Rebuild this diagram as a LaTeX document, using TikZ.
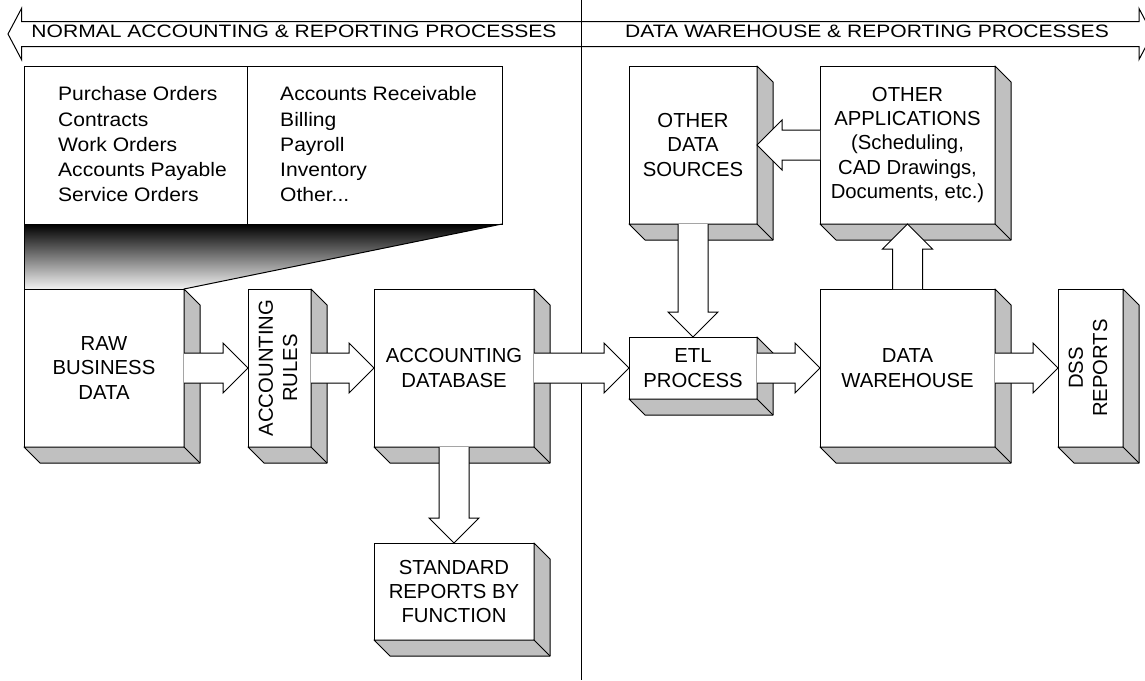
\documentclass[tikz,border=0pt]{standalone}
\usepackage{fontspec}
\setmainfont{Liberation Sans}
\newfontfamily\bannerfont{Liberation Sans}[FakeStretch=1.17]
\newfontfamily\listfont{Liberation Sans}[FakeStretch=1.08]
\usetikzlibrary{calc}
\definecolor{SideGray}{RGB}{192,192,192}
\tikzset{
  box3d/.style={draw=black,fill=white,line width=1pt,inner sep=0pt,outer sep=0pt,
    align=center,font=\fontsize{20.3}{24.3}\selectfont},
  boxtext/.style={inner sep=0pt,align=center,font=\fontsize{20.3}{24.3}\selectfont},
  sideface/.style={draw=black,fill=SideGray,line width=1pt,line join=round},
  blockarrow/.style={draw=black,fill=white,line width=1pt,line join=miter},
  listtext/.style={inner sep=0pt,align=left,anchor=west,
    font=\listfont\fontsize{19.5}{25.25}\selectfont},
  bannertext/.style={inner sep=0pt,font=\bannerfont\fontsize{18}{20}\selectfont},
}

% grey right and bottom faces behind a box
\newcommand\sidefaces[1]{%
  \filldraw[sideface] (#1.north east) -- ++(16,16) -- ($(#1.south east)+(16,16)$)
    -- ($(#1.south west)+(16,16)$) -- (#1.south west) -- (#1.south east) -- cycle;
  \draw[line width=1pt] (#1.south east) -- ++(16,16);
}
% wide hollow arrow, open at its tail
\newcommand\fatarrow[2]{%
  \coordinate (headbase) at ($(#2)!25pt!(#1)$);
  \filldraw[blockarrow] ($(#1)!15pt!90:(#2)$) -- ($(headbase)!15pt!90:(#2)$)
    -- ($(headbase)!25pt!90:(#2)$) -- (#2) -- ($(headbase)!25pt!-90:(#2)$)
    -- ($(headbase)!15pt!-90:(#2)$) -- ($(#1)!15pt!-90:(#2)$);
}

\begin{document}
\begin{tikzpicture}[x=1pt,y=-1pt]
  \useasboundingbox (0,0) rectangle (1145,680);

  % banner over both halves
  \filldraw[blockarrow] (8,34) -- (21.5,8.5) -- (21.5,21.5) -- (1139,21.5) -- (1139,8.5)
    -- (1152.5,34) -- (1139,59.5) -- (1139,46.5) -- (21.5,46.5) -- (21.5,59.5) -- cycle;
  \node[bannertext] (acctbanner) at (294,31) {NORMAL ACCOUNTING \& REPORTING PROCESSES};
  \node[bannertext] (dwbanner) at (867,31) {DATA WAREHOUSE \& REPORTING PROCESSES};
  \draw[line width=1pt] (581,0) -- (581,680);

  % transaction list and its funnel
  \shade[top color=black,bottom color=white!95!black]
    (24,224) -- (502,224) -- (184,289) -- (24,289) -- cycle;
  \draw[line width=1pt] (24,66) rectangle (502,224);
  \draw[line width=1pt] (247,66) -- (247,224);
  \draw[line width=1pt] (24,224) -- (24,289);
  \draw[line width=1pt] (502,224) -- (184,289);
  \node[listtext] (leftlist) at (58,144.5)
    {Purchase Orders\\Contracts\\Work Orders\\Accounts Payable\\Service Orders};
  \node[listtext] (rightlist) at (280,144.5)
    {Accounts Receivable\\Billing\\Payroll\\Inventory\\Other...};

  % boxes
  \node[box3d,minimum width=160pt,minimum height=158pt] (rawdata) at (104,368) {RAW\\BUSINESS\\DATA};
  \node[box3d,minimum width=63pt,minimum height=158pt] (rules) at (279.5,368) {};
  \node[box3d,minimum width=160pt,minimum height=158pt] (acctdb) at (454,368) {ACCOUNTING\\DATABASE};
  \node[box3d,minimum width=160pt,minimum height=97pt] (stdrep) at (454,591.5) {STANDARD\\REPORTS BY\\FUNCTION};
  \node[box3d,minimum width=128pt,minimum height=62pt] (etl) at (693,368) {ETL\\PROCESS};
  \node[box3d,minimum width=128pt,minimum height=158pt] (othersrc) at (693,145) {OTHER\\DATA\\SOURCES};
  \node[box3d,minimum width=175pt,minimum height=158pt] (otherapp) at (907.5,145)
    {OTHER\\APPLICATIONS\\(Scheduling,\\CAD Drawings,\\Documents, etc.)};
  \node[box3d,minimum width=175pt,minimum height=158pt] (dw) at (907.5,368) {DATA\\WAREHOUSE};
  \node[box3d,minimum width=65pt,minimum height=158pt] (dss) at (1090.5,368) {};
  \node[boxtext,rotate=90] (rulestext) at (278,368) {ACCOUNTING\\RULES};
  \node[boxtext,rotate=90] (dsstext) at (1088,368) {DSS\\REPORTS};

  \foreach \b in {rawdata,rules,acctdb,stdrep,etl,othersrc,otherapp,dw,dss}
    \sidefaces{\b};

  % flows
  \fatarrow{rawdata.east}{rules.west}
  \fatarrow{rules.east}{acctdb.west}
  \fatarrow{acctdb.east}{etl.west}
  \fatarrow{etl.east}{dw.west}
  \fatarrow{dw.east}{dss.west}
  \fatarrow{acctdb.south}{stdrep.north}
  \fatarrow{othersrc.south}{etl.north}
  \fatarrow{dw.north}{otherapp.south}
  \fatarrow{otherapp.west}{othersrc.east}
\end{tikzpicture}
\end{document}
